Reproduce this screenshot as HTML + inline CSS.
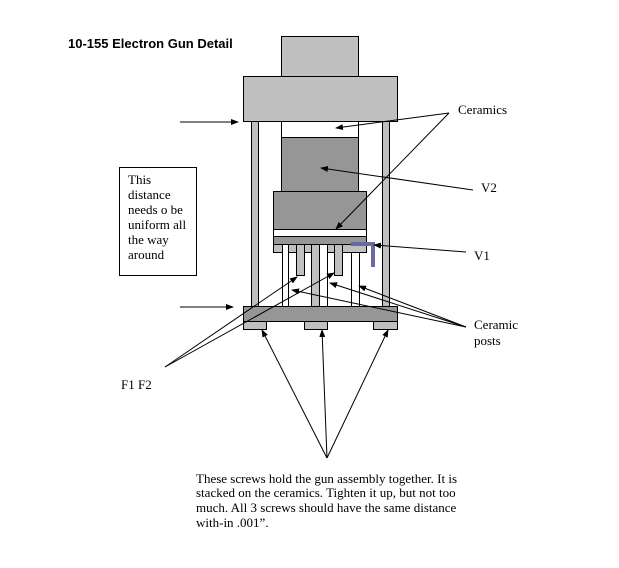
<!DOCTYPE html>
<html><head><meta charset="utf-8"><style>
body{margin:0;background:#fff}
svg{display:block}
text{font-family:"Liberation Serif",serif;font-size:13px;fill:#000}
</style></head><body>
<svg width="619" height="568" viewBox="0 0 619 568" xmlns="http://www.w3.org/2000/svg">
<defs><marker id="a" markerWidth="8" markerHeight="6" refX="7" refY="3" orient="auto" markerUnits="userSpaceOnUse"><path d="M0,0 L8,3 L0,6 z" fill="#000"/></marker></defs>
<text x="68" y="48" style="font-family:'Liberation Sans',sans-serif;font-weight:bold;font-size:13px">10-155 Electron Gun Detail</text>
<g stroke="#000" stroke-width="1">
<rect x="281.5" y="36.5" width="77" height="40" fill="#c0c0c0"/>
<rect x="243.5" y="76.5" width="154" height="45" fill="#c0c0c0"/>
<rect x="251.5" y="121.5" width="7" height="185" fill="#c0c0c0"/>
<rect x="382.5" y="121.5" width="7" height="185" fill="#c0c0c0"/>
<rect x="281.5" y="121.5" width="77" height="16" fill="#fff"/>
<rect x="281.5" y="137.5" width="77" height="54" fill="#969696"/>
<rect x="273.5" y="191.5" width="93" height="38" fill="#969696"/>
<rect x="273.5" y="229.5" width="93" height="7" fill="#fff"/>
<rect x="273.5" y="236.5" width="93" height="8" fill="#969696"/>
<rect x="273.5" y="244.5" width="93" height="8" fill="#c0c0c0"/>
<rect x="282.5" y="244.5" width="6" height="62" fill="#fff"/>
<rect x="296.5" y="244.5" width="8" height="31" fill="#c0c0c0"/>
<rect x="311.5" y="244.5" width="8" height="62" fill="#c0c0c0"/>
<rect x="319.5" y="244.5" width="8" height="62" fill="#fff"/>
<rect x="334.5" y="244.5" width="8" height="31" fill="#c0c0c0"/>
<rect x="351.5" y="252.5" width="8" height="54" fill="#fff"/>
<rect x="243.5" y="306.5" width="154" height="15" fill="#969696"/>
<rect x="243.5" y="321.5" width="23" height="8" fill="#c0c0c0"/>
<rect x="304.5" y="321.5" width="23" height="8" fill="#c0c0c0"/>
<rect x="373.5" y="321.5" width="24" height="8" fill="#c0c0c0"/>
<rect x="119.5" y="167.5" width="77" height="108" fill="#fff"/>
</g>
<path d="M351,244 H373 V267" fill="none" stroke="#6a6aa0" stroke-width="4"/>
<g stroke="#000" stroke-width="1" fill="none" marker-end="url(#a)">
<line x1="180" y1="122" x2="238" y2="122"/>
<line x1="180" y1="307" x2="233" y2="307"/>
<line x1="449" y1="113" x2="336" y2="128"/>
<line x1="449" y1="113" x2="336" y2="229"/>
<line x1="473" y1="190" x2="321" y2="168"/>
<line x1="466" y1="252" x2="374" y2="245"/>
<line x1="466" y1="327" x2="292" y2="290"/>
<line x1="466" y1="327" x2="330" y2="283"/>
<line x1="466" y1="327" x2="359" y2="286"/>
<line x1="165" y1="367" x2="297" y2="277"/>
<line x1="165" y1="367" x2="334" y2="273"/>
<line x1="327" y1="458" x2="262" y2="330"/>
<line x1="327" y1="458" x2="322" y2="330"/>
<line x1="327" y1="458" x2="388" y2="330"/>
</g>
<text x="128" y="184">This</text>
<text x="128" y="199">distance</text>
<text x="128" y="214">needs o be</text>
<text x="128" y="229">uniform all</text>
<text x="128" y="244">the way</text>
<text x="128" y="259">around</text>
<text x="458" y="114">Ceramics</text>
<text x="481" y="192">V2</text>
<text x="474" y="260">V1</text>
<text x="474" y="329">Ceramic</text>
<text x="474" y="345">posts</text>
<text x="121" y="389">F1 F2</text>
<text x="196" y="483">These screws hold the gun assembly together. It is</text>
<text x="196" y="497">stacked on the ceramics.  Tighten it up, but not too</text>
<text x="196" y="512">much.  All 3 screws should have the same distance</text>
<text x="196" y="527">with-in .001”.</text>
</svg>
</body></html>
